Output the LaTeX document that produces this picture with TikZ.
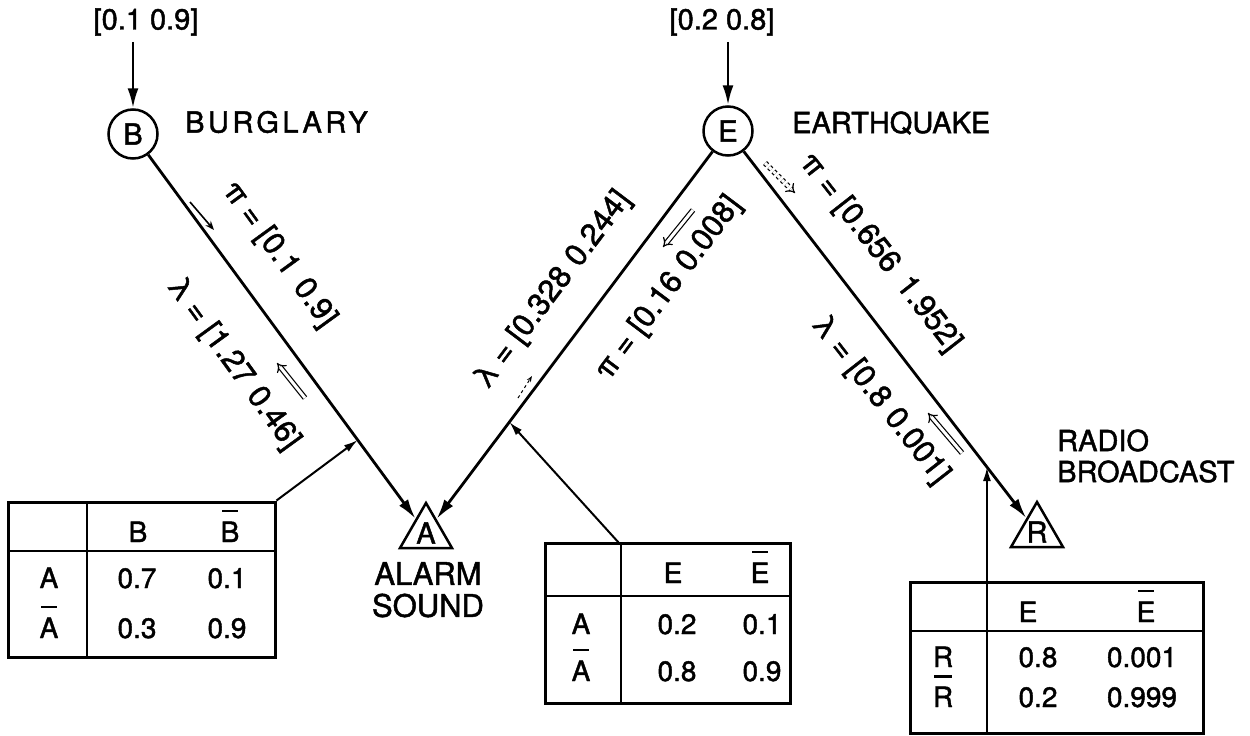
\documentclass[tikz,border=0pt]{standalone}
\usepackage{fontspec}
\setmainfont{TeX Gyre Heros}[FakeBold=1.5]
\usetikzlibrary{arrows.meta,shapes.geometric,calc}
\newcommand\myfs[1]{\fontsize{#1}{#1}\selectfont}
\newcommand\barl[2][2pt]{\setbox0\hbox{#2}\vbox{\hbox to\wd0{\hss\vrule width 0.85\wd0 height 2.4pt\hss}\kern#1\box0}}
\begin{document}
\begin{tikzpicture}[x=1pt,y=-1pt,
  edge/.style={line width=2.8pt,-{Latex[length=20pt,width=11pt]}},
  conn/.style={line width=2pt,-{Latex[length=14pt,width=8pt]}},
  var/.style={circle,draw,line width=2.5pt,minimum size=49pt,inner sep=0pt,font=\myfs{29}},
  tri/.style={regular polygon,regular polygon sides=3,draw,line width=2.5pt,minimum size=60pt,inner sep=0pt,font=\myfs{29}},
  lbl/.style={font=\myfs{29},inner sep=0pt},
  elbl/.style={font=\myfs{31},inner sep=0pt},
  tbl/.style={draw,line width=3pt,inner sep=0pt},
  tline/.style={line width=2.5pt},
  cell/.style={font=\myfs{28},inner sep=0pt,anchor=base},
  dbl/.style={line width=1.2pt,double distance=3pt,-{Implies}},
  sgl/.style={line width=1.6pt,-{Stealth[length=9pt,width=7pt]}},
]
\useasboundingbox (0,0) rectangle (1250,736);

% variables
\node[var] (B) at (133,134) {B};
\node[var] (E) at (728,131) {E};
\node[tri] (A) at (426,533) {A};
\node[tri] (R) at (1037,532) {R};

% prior labels
\node[lbl] (pB) at (146,22) {[0.1 0.9]};
\node[lbl] (pE) at (722,22) {[0.2 0.8]};
\draw[edge] ([yshift=-6pt]pB.south -| B) -- (B);
\draw[edge] ([yshift=-6pt]pE.south -| E) -- (E);

% names
\node[lbl,anchor=west] (nB) at (185,122) {\addfontfeatures{LetterSpace=12}BURGLARY};
\node[lbl,anchor=west] (nE) at (792,123) {EARTHQUAKE};
\node[font=\myfs{31},inner sep=0pt,anchor=north,align=center] (nA) at (428,562) {ALARM\\[1pt]SOUND};
\node[lbl,anchor=west,align=left] (nR) at (1057,456) {RADIO\\[2pt]BROADCAST};

% edges
\draw[edge] (B) -- (A);
\draw[edge] (E) -- (A);
\draw[edge] (E) -- (R);

% edge labels
\node[elbl,rotate=-54] (piBA) at (279,255) {π = [0.1\hspace{12pt}0.9]};
\node[elbl,rotate=-54] (laBA) at (233,364) {λ = [1.27\hspace{10pt}0.46]};
\node[elbl,rotate=53] (laEA) at (553,290) {λ = [0.328\hspace{10pt}0.244]};
\node[elbl,rotate=53] (piEA) at (669,288) {π = [0.16\hspace{10pt}0.008]};
\node[elbl,rotate=-52] (piER) at (880,253) {π = [0.656\hspace{14pt}1.952]};
\node[elbl,rotate=-52] (laER) at (880,400) {λ = [0.8\hspace{10pt}0.001]};

% message arrows
\draw[sgl] (190,202) -- (214,230);
\draw[dbl] (305,398) -- (277,363);
\draw[dbl] (693,210) -- (663,247);
\draw[line width=1pt,dashed,-{Stealth[length=6pt]}] (518,398) -- (532,376);
\draw[dbl,dashed] (765,163) -- (795,193);
\draw[dbl] (962,453) -- (928,413);

% tables
\node[tbl,minimum width=267pt,minimum height=155pt] (T1) at (141.5,579.5) {};
\draw[tline] (87,502) -- (87,657);
\draw[tline] (8,551) -- (275,551);
\node[cell] (t1h1) at (138,542) {B};
\node[cell] (t1h2) at (230,542) {\barl{B}};
\node[cell] (t1r1) at (49,588) {A};
\node[cell] (t1r2) at (49,638) {\barl{A}};
\node[cell] (t1a) at (137,588) {0.7};
\node[cell] (t1b) at (227,588) {0.1};
\node[cell] (t1c) at (137,638) {0.3};
\node[cell] (t1d) at (227,638) {0.9};

\node[tbl,minimum width=245pt,minimum height=160pt] (T2) at (667.5,623) {};
\draw[tline] (621,543) -- (621,703);
\draw[tline] (545,596) -- (790,596);
\node[cell] (t2h1) at (673,583) {E};
\node[cell] (t2h2) at (760,583) {\barl{E}};
\node[cell] (t2r1) at (581,634) {A};
\node[cell] (t2r2) at (581,681) {\barl{A}};
\node[cell] (t2a) at (677,634) {0.2};
\node[cell] (t2b) at (762,634) {0.1};
\node[cell] (t2c) at (677,681) {0.8};
\node[cell] (t2d) at (762,681) {0.9};

\node[tbl,minimum width=293pt,minimum height=151pt] (T3) at (1056.5,657.5) {};
\draw[tline] (987,582) -- (987,733);
\draw[tline] (910,631) -- (1203,631);
\node[cell] (t3h1) at (1028,622) {E};
\node[cell] (t3h2) at (1146,622) {\barl{E}};
\node[cell] (t3r1) at (943,667) {R};
\node[cell] (t3r2) at (943,707) {\barl[1.2pt]{R}};
\node[cell] (t3a) at (1038,667) {0.8};
\node[cell] (t3b) at (1142,667) {0.001};
\node[cell] (t3c) at (1038,707) {0.2};
\node[cell] (t3d) at (1142,707) {0.999};

% table connectors
\coordinate (c1) at ($(B)!0.767!(A)$);
\coordinate (c2) at ($(E)!0.724!(A)$);
\coordinate (c3) at ($(E)!0.838!(R)$);
\coordinate (s2) at (619,543);
\draw[conn] (T1.north east) -- (c1);
\draw[conn] (s2) -- (c2);
\draw[conn] (c3 |- T3.north) -- (c3);
\end{tikzpicture}
\end{document}
